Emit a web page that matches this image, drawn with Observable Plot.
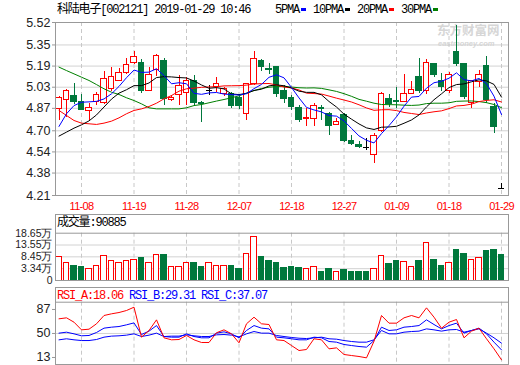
<!DOCTYPE html>
<html><head><meta charset="utf-8">
<script src="https://cdn.jsdelivr.net/npm/d3@7"></script>
<script src="https://cdn.jsdelivr.net/npm/@observablehq/plot@0.6"></script>
<style>
body{margin:0;background:#fff;}
#wrap{position:relative;width:520px;height:365px;overflow:hidden;background:#fff;font-family:"Liberation Sans",sans-serif;}
.abs{position:absolute;}
.mono{font-family:"Liberation Mono","Noto Sans CJK SC",monospace;font-size:12px;letter-spacing:-1.2px;white-space:pre;line-height:14px;color:#000;}
.box{position:absolute;border:1px solid #999;box-sizing:border-box;}
.sw{display:inline-block;width:5px;height:3px;vertical-align:middle;margin:0 1px 0 2px;}
.wm{position:absolute;color:#d6d6d6;font-weight:bold;white-space:nowrap;}
svg.chart [aria-label="x-axis tick label"] text{letter-spacing:-0.7px;}
</style></head>
<body><div id="wrap"></div>
<script>
// ---------- data ----------
const dateLabels = ["11-08","11-19","11-28","12-07","12-18","12-27","01-09","01-18","01-29"];
const dateTickIdx = [3,10,17,24,31,38,45,52,59];
const priceTicks = [4.21,4.38,4.54,4.70,4.87,5.03,5.19,5.35,5.52];
const volTicks = [-1.76,3.34,8.45,13.55,18.65];
const volTickLabels = ["0","3.34万","8.45万","13.55万","18.65万"];
const rsiTicks = [13,50,87];

const openP = [4.867,4.93,4.965,4.92,4.85,4.92,4.91,5.02,5.08,5.14, 5.21,5.215,5.00,5.16,5.23,4.935,4.97,4.985,5.08,4.91, 5.005,5.03,4.98,4.98,4.95,4.83,5.055,5.23,5.17,5.18, 5.005,4.95,4.875,4.79,4.79,4.874,4.83,4.745,4.82,4.62, 4.595,4.576,4.513,4.70,4.94,4.925,4.92,4.98,5.11,5.00, 5.207,5.08,5.005,5.295,5.207,4.91,5.07,5.187,4.88,4.26];
const highP = [4.96,5.01,5.06,4.975,4.91,4.99,5.15,5.18,5.17,5.25, 5.30,5.24,5.18,5.28,5.245,4.97,5.12,5.10,5.12,4.92, 5.043,5.10,5.03,4.99,4.97,5.06,5.30,5.24,5.21,5.18, 5.04,4.97,4.89,4.87,4.905,4.89,4.84,4.79,4.83,4.665, 4.62,4.64,4.68,4.99,4.975,5.03,5.125,5.07,5.245,5.24, 5.21,5.135,5.14,5.50,5.21,5.08,5.155,5.26,4.905,4.30];
const lowP = [4.78,4.80,4.90,4.85,4.78,4.89,4.90,5.00,5.07,5.13, 5.20,4.985,4.995,5.11,4.89,4.92,4.89,4.89,4.89,4.765, 4.967,4.99,4.96,4.87,4.86,4.78,5.04,5.15,5.13,4.95, 4.91,4.85,4.765,4.73,4.735,4.78,4.665,4.74,4.615,4.59, 4.565,4.55,4.45,4.69,4.88,4.87,4.92,4.975,4.985,4.975, 5.106,5.00,4.98,5.19,4.935,4.867,5.03,4.91,4.677,4.26];
const closeP = [4.95,5.00,4.916,4.86,4.87,4.97,5.09,5.11,5.14,5.20, 5.26,5.00,5.12,5.27,4.94,4.95,5.04,5.08,4.91,4.90, 5.005,5.055,5.02,4.89,4.885,5.055,5.245,5.18,5.16,4.98, 4.94,4.88,4.785,4.80,4.885,4.865,4.74,4.765,4.62,4.60, 4.58,4.576,4.664,4.975,4.90,4.915,4.975,5.01,5.00,5.215, 5.12,5.03,5.125,5.207,4.955,5.075,5.12,4.93,4.73,4.26];
const volume = [8.17,6.0,4.42,3.98,2.99,4.71,8.6,6.87,5.58,6.44, 7.3,7.88,5.58,9.03,9.18,3.85,4.28,6.0,5.72,3.98, 5.58,4.71,4.42,4.71,3.13,9.46,16.8,8.3,6.87,5.58, 3.55,3.98,3.42,2.99,4.28,2.12,2.99,1.99,2.56,2.12, 1.82,2.12,3.29,8.9,5.15,6.44,6.31,4.15,6.44,14.5, 7.3,4.71,5.88,11.19,9.89,7.3,7.74,10.76,11.19,9.09];

const ma5 = [4.733,4.829,4.891,4.916,4.919,4.923,4.941,4.980,5.036,5.102, 5.160,5.142,5.144,5.170,5.118,5.056,5.064,5.056,4.984,4.976, 4.987,4.990,4.978,4.974,4.971,4.981,5.019,5.051,5.105,5.124, 5.101,5.028,4.949,4.877,4.858,4.843,4.815,4.811,4.775,4.718, 4.661,4.628,4.608,4.679,4.739,4.806,4.886,4.955,4.960,5.023, 5.064,5.075,5.098,5.139,5.087,5.078,5.096,5.057,4.962,4.823];
const ma10 = [4.66,4.69,4.72,4.745,4.775,4.82,4.88,4.94,4.985,5.011, 5.042,5.042,5.062,5.103,5.110,5.108,5.103,5.100,5.077,5.047, 5.022,5.027,5.017,4.979,4.974,4.984,5.005,5.015,5.040,5.048, 5.041,5.024,5.000,4.991,4.991,4.972,4.922,4.880,4.826,4.788, 4.752,4.722,4.710,4.727,4.729,4.734,4.757,4.782,4.820,4.881, 4.935,4.980,5.027,5.050,5.055,5.071,5.086,5.078,5.051,4.955];
const ma20 = [4.854,4.816,4.778,4.758,4.753,4.748,4.758,4.773,4.798,4.829, 4.854,4.866,4.884,4.909,4.942,4.967,5.000,5.018,5.023,5.029, 5.032,5.034,5.040,5.041,5.042,5.046,5.054,5.057,5.058,5.047, 5.031,5.025,5.009,4.985,4.982,4.978,4.963,4.947,4.933,4.918, 4.897,4.873,4.855,4.859,4.860,4.853,4.839,4.831,4.823,4.835, 4.844,4.851,4.868,4.888,4.892,4.902,4.921,4.930,4.935,4.918];
const ma30 = [5.182,5.156,5.131,5.106,5.081,5.050,5.018,4.992,4.975,4.950, 4.929,4.904,4.874,4.866,4.866,4.866,4.866,4.874,4.891,4.899, 4.912,4.925,4.937,4.950,4.965,4.985,5.005,5.020,5.030,5.035, 5.035,5.031,5.026,5.024,5.025,5.021,5.010,4.998,4.981,4.961, 4.938,4.924,4.909,4.899,4.898,4.897,4.894,4.892,4.895,4.906, 4.909,4.909,4.912,4.923,4.925,4.926,4.921,4.913,4.899,4.875];

const rsiA = [72.6,74.1,67.4,55.6,56.6,64.9,77.7,80.3,82.3,85.4, 90.5,44.3,54.6,71.0,43.3,40.2,40.7,46.9,40.2,36.1, 36.1,51.1,55.6,49.4,35.6,64.9,75.1,64.9,63.8,40.2, 39.1,31.4,23.7,25.3,41.8,40.2,26.3,27.8,17.6,16.0, 14.5,12.4,38.0,77.7,65.9,65.9,74.1,77.7,74.1,89.5, 75.1,58.1,67.4,71.5,43.3,53.6,58.1,41.8,26.3,9.4];
const rsiB = [50.5,52.0,49.4,46.4,46.9,51.5,58.2,59.7,60.7,63.3, 66.3,48.4,53.6,62.2,45.3,44.3,44.3,49.4,45.3,43.3, 43.3,50.5,52.5,49.4,43.3,54.6,62.2,58.2,57.1,44.3, 43.3,41.8,40.2,40.2,44.3,43.3,37.6,36.6,33.0,31.4, 29.9,28.9,39.1,59.7,54.6,55.6,59.7,60.7,62.2,71.0, 63.8,57.1,62.2,65.9,50.5,54.6,58.2,49.4,36.6,24.7];
const rsiC = [40.2,41.8,40.2,39.1,39.1,40.7,44.3,45.9,46.4,47.4, 49.4,45.3,47.4,50.5,45.3,45.9,45.9,47.9,46.4,45.3, 45.3,47.9,48.4,47.4,44.8,49.4,53.0,50.5,50.5,46.9, 45.3,43.8,42.7,42.2,43.3,44.3,41.8,41.2,39.1,37.6, 36.6,36.6,40.2,54.6,49.4,49.4,52.0,53.0,53.6,57.1, 55.6,53.6,55.6,56.1,52.0,54.6,57.1,50.5,43.3,35.1];

// ---------- build ----------
const UP = "#ff0000", DOWN = "#00783c", FLAT = "#000000", GRID = "#d2d2d2", FRAME = "#999999";
const candles = closeP.map((c, i) => ({
  i, o: openP[i], h: highP[i], l: lowP[i], c, v: volume[i],
  dir: c > openP[i] ? "up" : c < openP[i] ? "down" : "flat",
  vdir: c > openP[i] ? "up" : c < openP[i] ? "down" : (i > 0 && c < closeP[i-1] ? "down" : "up")
}));
const col = d => d.dir === "up" ? UP : d.dir === "down" ? DOWN : FLAT;
const xDom = [-0.467, 59.933];
const HW = 0.34;
const wrap = document.getElementById("wrap");

function addDiv(html, cls, style) {
  const d = document.createElement("div");
  d.className = cls; d.setAttribute("style", style); d.innerHTML = html;
  wrap.appendChild(d); return d;
}
function place(svg, top) {
  svg.style.position = "absolute"; svg.style.left = "0px"; svg.style.top = top + "px";
  svg.style.background = "transparent"; svg.style.overflow = "visible";
  svg.classList.add("chart");
  wrap.appendChild(svg);
}
const series = (arr) => arr.map((v, i) => ({i, v}));

// watermark
addDiv("东方财富网", "wm", "left:437px;top:23px;font-family:'Noto Sans CJK SC';font-size:12.5px;line-height:13px;");
addDiv("eastmoney.com", "wm", "left:438px;top:40px;font-family:'Liberation Sans';font-size:7.5px;font-style:italic;line-height:8px;");

// titles
addDiv("科陆电子[002121] 2019-01-29 10:46", "abs mono", "left:57px;top:3px;");
addDiv('5PMA<i class="sw" style="background:#0000ff"></i> 10PMA<i class="sw" style="background:#000"></i> 20PMA<i class="sw" style="background:#ff0000"></i> 30PMA<i class="sw" style="background:#008000"></i>',
  "abs mono", "left:275px;top:3px;");

// ---- main price chart ----
const main = Plot.plot({
  width: 520, height: 213,
  marginTop: 22, marginBottom: 18, marginLeft: 55, marginRight: 12,
  style: {fontFamily: "Liberation Sans", fontSize: "12.5px"},
  x: {type: "linear", domain: xDom},
  y: {domain: [4.21, 5.52]},
  marks: [
    Plot.gridY(priceTicks, {stroke: GRID, strokeOpacity: 1}),
    Plot.gridX(dateTickIdx, {stroke: "#c8c8c8", strokeOpacity: 1, strokeDasharray: "4,3"}),
    Plot.ruleX(candles, {x: "i", y1: "l", y2: "h", stroke: col, strokeWidth: 1, shapeRendering: "crispEdges"}),
    Plot.rect(candles.filter(d => d.dir !== "flat"), {
      x1: d => d.i - HW, x2: d => d.i + HW, y1: "o", y2: "c",
      fill: d => d.dir === "up" ? "#ffffff" : DOWN, stroke: col, strokeWidth: 1, shapeRendering: "crispEdges"
    }),
    Plot.ruleY(candles.filter(d => d.dir === "flat"), {y: "c", x1: d => d.i - 0.4, x2: d => d.i + 0.4, stroke: FLAT, shapeRendering: "crispEdges"}),
    Plot.line(series(ma30), {x: "i", y: "v", stroke: "#008000", strokeWidth: 1}),
    Plot.line(series(ma20), {x: "i", y: "v", stroke: "#ff0000", strokeWidth: 1}),
    Plot.line(series(ma10), {x: "i", y: "v", stroke: "#000000", strokeWidth: 1}),
    Plot.line(series(ma5), {x: "i", y: "v", stroke: "#0000ff", strokeWidth: 1}),
    Plot.frame({stroke: FRAME}),
    Plot.axisY(priceTicks, {label: null, tickSize: 3, tickPadding: 2, tickFormat: d => d.toFixed(2), stroke: FRAME, fill: "#222", fontSize: 12.5}),
    Plot.axisX(dateTickIdx, {label: null, tickSize: 0, tickPadding: 7, tickFormat: d => dateLabels[dateTickIdx.indexOf(d)], fill: "#ff0000", fontSize: 11})
  ]
});
place(main, 0);

// ---- volume panel ----
addDiv("", "box", "left:55px;top:214px;width:454px;height:67px;");
addDiv("成交量:90885", "abs mono", "left:57px;top:216px;");
const vol = Plot.plot({
  width: 520, height: 74,
  marginTop: 22.7, marginBottom: 4, marginLeft: 55, marginRight: 12,
  style: {fontFamily: "Liberation Sans", fontSize: "10.5px"},
  x: {type: "linear", domain: xDom, axis: null},
  y: {domain: [volTicks[0], volTicks[volTicks.length - 1]], axis: null},
  marks: [
    Plot.gridY(volTicks.slice(1, -1), {stroke: GRID, strokeOpacity: 1}),
    Plot.gridX(dateTickIdx, {stroke: "#c8c8c8", strokeOpacity: 1, strokeDasharray: "4,3"}),
    Plot.rect(candles, {
      x1: d => d.i - HW, x2: d => d.i + HW, y1: volTicks[0], y2: "v",
      fill: d => d.vdir === "up" ? "#ffffff" : DOWN, stroke: d => d.vdir === "up" ? UP : DOWN,
      strokeWidth: 1, shapeRendering: "crispEdges"
    }),
    Plot.frame({stroke: FRAME}),
    Plot.axisY(volTicks, {label: null, tickSize: 0, tickPadding: 3, tickFormat: d => volTickLabels[volTicks.indexOf(d)], fill: "#222", fontSize: 10.5})
  ]
});
place(vol, 210);

// ---- RSI panel ----
addDiv("", "box", "left:55px;top:287px;width:454px;height:78px;");
addDiv('<span style="color:#ff0000">RSI_A:18.06</span> <span style="color:#0000ff">RSI_B:29.31</span> <span style="color:#0000ff">RSI_C:37.07</span>',
  "abs mono", "left:57px;top:289px;");
const rsi = Plot.plot({
  width: 520, height: 81,
  marginTop: 17.7, marginBottom: 1, marginLeft: 55, marginRight: 12,
  style: {fontFamily: "Liberation Sans", fontSize: "12.5px"},
  x: {type: "linear", domain: xDom, axis: null},
  y: {domain: [2.16, 98.21], axis: null},
  marks: [
    Plot.gridY([50], {stroke: GRID, strokeOpacity: 1}),
    Plot.gridX(dateTickIdx, {stroke: "#c8c8c8", strokeOpacity: 1, strokeDasharray: "4,3"}),
    Plot.line(series(rsiC), {x: "i", y: "v", stroke: "#0000ff", strokeWidth: 1}),
    Plot.line(series(rsiB), {x: "i", y: "v", stroke: "#0000ff", strokeWidth: 1}),
    Plot.line(series(rsiA), {x: "i", y: "v", stroke: "#ff0000", strokeWidth: 1}),
    Plot.frame({stroke: FRAME}),
    Plot.axisY(rsiTicks, {label: null, tickSize: 3, tickPadding: 2, stroke: FRAME, fill: "#222", fontSize: 12.5})
  ]
});
place(rsi, 284);
</script>
</body></html>
